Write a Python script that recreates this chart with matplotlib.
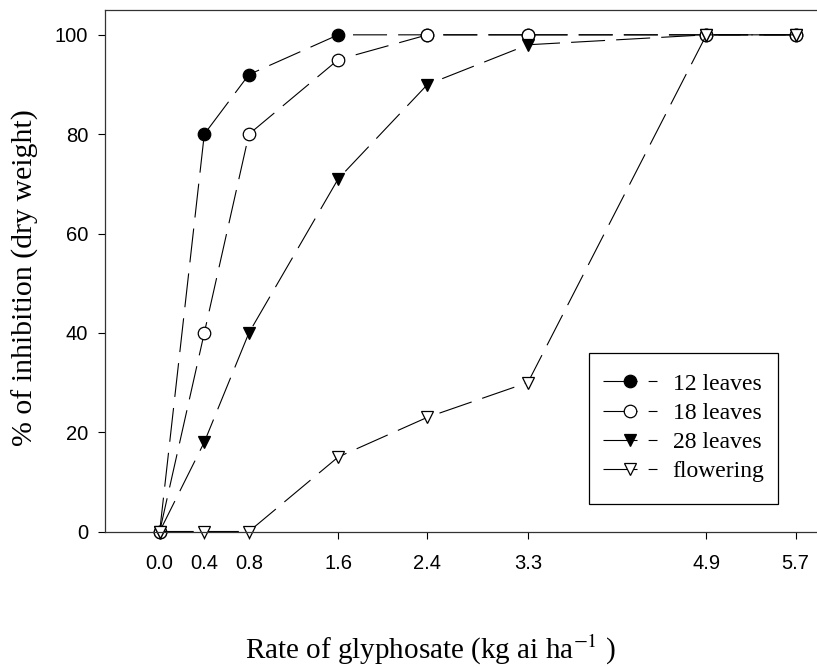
import matplotlib
matplotlib.use('Agg')
import matplotlib.pyplot as plt
from matplotlib.patches import Rectangle

# glyphosate rates (kg ai/ha) and % inhibition per growth stage
rates = [0.0, 0.4, 0.8, 1.6, 2.4, 3.3, 4.9, 5.7]
rate_labels = ['0.0', '0.4', '0.8', '1.6', '2.4', '3.3', '4.9', '5.7']
leaves12 = [0, 80, 92, 100, 100, 100, 100, 100]
leaves18 = [0, 40, 80, 95, 100, 100, 100, 100]
leaves28 = [0, 18, 40, 71, 90, 98, 100, 100]
flowering = [0, 0, 0, 15, 23, 30, 100, 100]
series_names = ['12 leaves', '18 leaves', '28 leaves', 'flowering']
y_ticks = [0, 20, 40, 60, 80, 100]

plt.rcParams['lines.scale_dashes'] = False
plt.rcParams['mathtext.fontset'] = 'stix'

W, H = 817, 667
fig = plt.figure(figsize=(W / 100, H / 100), dpi=100)
ax = fig.add_axes([105 / W, (H - 531.5) / H, 713 / W, 521.5 / H])

styles = [
    ('o', 'black'),
    ('o', 'white'),
    ('v', 'black'),
    ('v', 'white'),
]
dash = (24.5, 8)
for vals, name, (mk, fc) in zip([leaves12, leaves18, leaves28, flowering], series_names, styles):
    ax.plot(rates, vals, color='black', lw=0.8, dashes=dash,
            marker=mk, markersize=9, markerfacecolor=fc,
            markeredgecolor='black', markeredgewidth=0.9,
            label=name, clip_on=False)

ax.set_xlim(-0.49, 5.9)
ax.set_ylim(0, 105)
ax.set_xticks(rates)
ax.set_xticklabels(rate_labels)
ax.set_yticks(y_ticks)

for lab in ax.get_xticklabels() + ax.get_yticklabels():
    lab.set_family('Liberation Sans')
    lab.set_fontsize(14.5)
ax.tick_params(axis='x', direction='out', length=5, width=0.8, pad=11)
ax.tick_params(axis='y', direction='out', length=5, width=0.8, pad=7)
for s in ax.spines.values():
    s.set_linewidth(0.9)
    s.set_color('#333333')

# legend box drawn separately so its padding can match the original
ax.add_patch(Rectangle((589 / W, 1 - 504 / H), 189 / W, 151 / H,
                       transform=fig.transFigure, facecolor='white',
                       edgecolor='black', lw=0.9, zorder=4.9, clip_on=False))
leg = ax.legend(loc='upper left', bbox_to_anchor=(589 / W, 1 - 359 / H),
                bbox_transform=fig.transFigure, borderaxespad=0,
                prop={'family': 'Liberation Serif', 'size': 17},
                handlelength=2.3, handletextpad=0.64, borderpad=0.6,
                labelspacing=0.32, frameon=False)

fig.text(25 / W, 1 - 278 / H, '% of inhibition (dry weight)', rotation=90,
         ha='center', va='center', family='Liberation Serif', fontsize=21.5)
fig.text(431 / W, 8 / H, 'Rate of glyphosate (kg ai ha$^{-1}$ )',
         ha='center', va='baseline', family='Liberation Serif', fontsize=21)

fig.savefig('out.png', dpi=100)
